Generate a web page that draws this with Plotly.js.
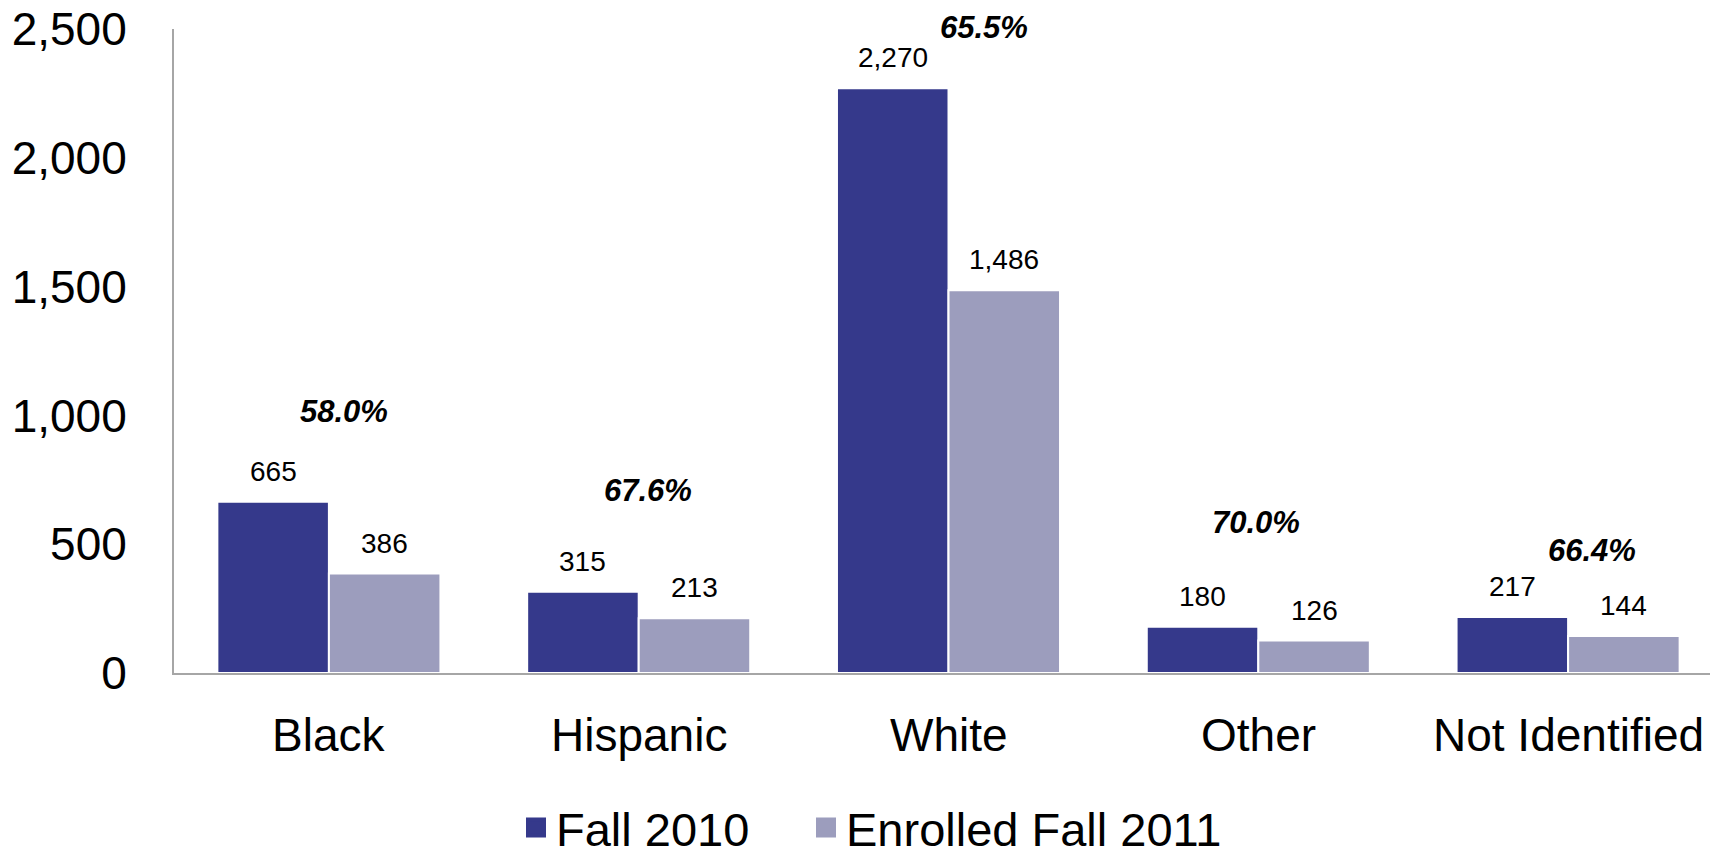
<!DOCTYPE html>
<html>
<head>
<meta charset="utf-8">
<script src="https://cdn.plot.ly/plotly-3.0.1.min.js"></script>
<style>
  html, body { margin: 0; padding: 0; overflow: hidden; background: #fff; }
  #chart { width: 1724px; height: 856px; }
</style>
</head>
<body>
<div id="chart"></div>
<script>
// ---- data ----
const categories = ["Black", "Hispanic", "White", "Other", "Not Identified"];
const fall2010 = [665, 315, 2270, 180, 217];
const enrolled2011 = [386, 213, 1486, 126, 144];
const pctLabels = ["58.0%", "67.6%", "65.5%", "70.0%", "66.4%"];
const yTicks = [0, 500, 1000, 1500, 2000, 2500];

// ---- style ----
const FONT = "Liberation Sans, Arial, sans-serif";
const DARK = "rgb(53,57,139)";
const LIGHT = "rgb(156,157,189)";
const BARGAP = 0.28;
const barOff = (1 - BARGAP) / 4;   // centre offset of each bar in a group
// label offsets for percentage annotations (px), relative to the group centre / taller bar top
const pctDx = [15, 9, 35, -2, 24];
const pctDy = [71, 82, 41, 85, 47];

const traces = [
  {
    type: "bar", x: categories, y: fall2010, name: "Fall 2010",
    marker: { color: DARK, line: { color: "#ffffff", width: 2 } },
    showlegend: false, hoverinfo: "skip"
  },
  {
    type: "bar", x: categories, y: enrolled2011, name: "Enrolled Fall 2011",
    marker: { color: LIGHT, line: { color: "#ffffff", width: 2 } },
    showlegend: false, hoverinfo: "skip"
  },
  {
    type: "scatter", mode: "markers", x: [null], y: [null], name: "Fall 2010",
    marker: { symbol: "square", size: 16, color: DARK, line: { color: DARK, width: 4 } },
    legend: "legend", showlegend: true
  },
  {
    type: "scatter", mode: "markers", x: [null], y: [null], name: "Enrolled Fall 2011",
    marker: { symbol: "square", size: 16, color: LIGHT, line: { color: LIGHT, width: 4 } },
    legend: "legend2", showlegend: true
  }
];

const annotations = [];
categories.forEach((c, i) => {
  // category label under the axis
  annotations.push({
    x: c, y: 0, xref: "x", yref: "y",
    text: c, showarrow: false,
    yanchor: "top", yshift: -34,
    font: { family: FONT, size: 46, color: "#000" }
  });
  annotations.push({
    x: i - barOff, y: fall2010[i], xref: "x", yref: "y",
    text: fall2010[i].toLocaleString("en-US"), showarrow: false,
    yanchor: "bottom", yshift: 13,
    font: { family: FONT, size: 28, color: "#000" }
  });
  annotations.push({
    x: i + barOff, y: enrolled2011[i], xref: "x", yref: "y",
    text: enrolled2011[i].toLocaleString("en-US"), showarrow: false,
    yanchor: "bottom", yshift: 13,
    font: { family: FONT, size: 28, color: "#000" }
  });
  annotations.push({
    x: i, y: Math.max(fall2010[i], enrolled2011[i]), xref: "x", yref: "y",
    text: "<b><i>" + pctLabels[i] + "</i></b>", showarrow: false,
    yanchor: "bottom", xshift: pctDx[i], yshift: pctDy[i],
    font: { family: FONT, size: 31, color: "#000" }
  });
});

const legendFont = { family: FONT, size: 47, color: "#000" };
const layout = {
  width: 1724, height: 856,
  margin: { l: 174, r: 1, t: 29, b: 183 },
  paper_bgcolor: "#ffffff", plot_bgcolor: "#ffffff",
  barmode: "group", bargap: BARGAP, bargroupgap: 0,
  font: { family: FONT, color: "#000" },
  xaxis: {
    type: "category", categoryarray: categories,
    showgrid: false, zeroline: false,
    showline: true, linecolor: "#a6a6a6", linewidth: 2,
    ticks: "", showticklabels: false,
    fixedrange: true
  },
  yaxis: {
    range: [0, 2500],
    tickvals: yTicks, tickformat: ",",
    showgrid: false, zeroline: false,
    showline: true, linecolor: "#a6a6a6", linewidth: 2,
    ticks: "", ticklabelstandoff: 36,
    tickfont: { family: FONT, size: 46, color: "#000" },
    fixedrange: true
  },
  legend: {
    xref: "container", yref: "container",
    x: 516 / 1724, y: 1 - 828 / 856, xanchor: "left", yanchor: "middle",
    orientation: "h", font: legendFont, bgcolor: "rgba(0,0,0,0)",
    borderwidth: 0, itemclick: false, itemdoubleclick: false
  },
  legend2: {
    xref: "container", yref: "container",
    x: 806 / 1724, y: 1 - 828 / 856, xanchor: "left", yanchor: "middle",
    orientation: "h", font: legendFont, bgcolor: "rgba(0,0,0,0)",
    borderwidth: 0, itemclick: false, itemdoubleclick: false
  },
  annotations: annotations,
  showlegend: true
};

Plotly.newPlot("chart", traces, layout, { displayModeBar: false, staticPlot: true });
</script>
</body>
</html>
